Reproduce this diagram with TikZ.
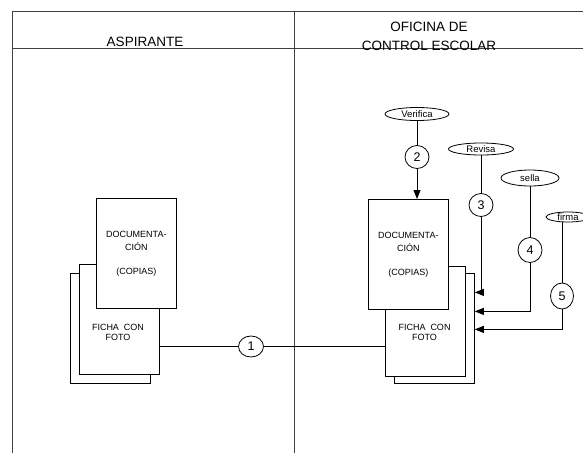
\documentclass[tikz,border=0pt]{standalone}
\usepackage{fontspec}
\setmainfont{Liberation Sans}
\usetikzlibrary{shapes.geometric,arrows.meta}
\begin{document}
\begin{tikzpicture}[x=1pt,y=-1pt,
 frame/.style={draw=black!75,line width=0.9pt},
 doc/.style={draw,fill=white,line width=0.8pt,minimum width=80pt,minimum height=110pt,inner sep=0pt,anchor=north west,align=center,font=\fontsize{9}{13}\selectfont},
 doctxt/.style={align=center,font=\fontsize{9}{10}\selectfont,inner sep=0pt},
 num/.style={ellipse,draw,fill=white,line width=0.8pt,minimum width=24pt,minimum height=23pt,inner sep=0pt,font=\fontsize{12.5}{13}\selectfont},
 act/.style={ellipse,draw,line width=0.8pt,inner sep=0pt,font=\fontsize{9.5}{10}\selectfont},
 conn/.style={draw,line width=0.8pt},
 arr/.style={conn,-{Triangle[length=9pt,width=7pt]}},
 head/.style={font=\fontsize{13.5}{18}\selectfont,anchor=base,inner sep=0pt}]
\useasboundingbox (0,0) rectangle (583,453);
% frame
\draw[frame] (12,453) -- (12,11) -- (583,11);
\draw[frame] (12,48) -- (583,48);
\draw[frame] (294,11) -- (294,453);
% headers
\node[head] (hA) at (145,46.7) {ASPIRANTE};
\node[head] (hO1) at (429,31.7) {OFICINA DE};
\node[head] (hO2) at (429,50) {CONTROL ESCOLAR};
% left documents
\node[doc] (ld3) at (70,273) {};
\node[doc] (ld2) at (79,264) {};
\node[doc] (ld1) at (96,198) {DOCUMENTA-\\CIÓN\\[11pt](COPIAS)};
\node[doctxt] (lt2) at (118,332) {FICHA\ \ CON\\FOTO};
% right documents
\node[doc] (rd3) at (394,273) {};
\node[doc] (rd2) at (385,266) {};
\node[doc] (rd1) at (368,199) {DOCUMENTA-\\CIÓN\\[11pt](COPIAS)};
\node[doctxt] (rt2) at (424.5,332) {FICHA\ \ CON\\FOTO};
% step 1
\node[num,minimum width=25pt,minimum height=21pt] (c1) at (251,346.5) {1};
\draw[conn] (c1.west) -- (c1.west -| ld2.east);
\draw[conn] (c1.east) -- (c1.east -| rd2.west);
% step 2
\node[act,minimum width=64pt,minimum height=13pt] (verifica) at (417,114) {Verifica};
\node[num] (c2) at (417,157) {2};
\draw[conn] (verifica) -- (c2);
\draw[arr] (c2) -- (c2 |- rd1.north);
% step 3
\node[act,minimum width=65pt,minimum height=12pt] (revisa) at (481,149) {Revisa};
\node[num] (c3) at (481,205) {3};
\draw[conn] (revisa) -- (c3);
\coordinate (t3) at ([yshift=36pt]rd3.east);
\draw[arr] (c3.south) |- (t3);
% step 4
\node[act,minimum width=58pt,minimum height=16pt] (sella) at (530,178) {sella};
\node[num,minimum height=25pt] (c4) at (530,250) {4};
\draw[conn] (sella) -- (c4);
\coordinate (t4) at ([yshift=17pt]rd3.east);
\draw[arr] (c4.south) |- (t4);
% step 5
\node[act,minimum width=44pt,minimum height=10pt] (firma) at (568,217) {firma};
\node[num,minimum width=23pt,minimum height=26pt] (c5) at (562,296) {5};
\draw[conn] (c5.north |- firma.south) -- (c5.north);
\coordinate (t5) at ([yshift=-1pt]rd3.east);
\draw[arr] (c5.south) |- (t5);
\end{tikzpicture}
\end{document}
